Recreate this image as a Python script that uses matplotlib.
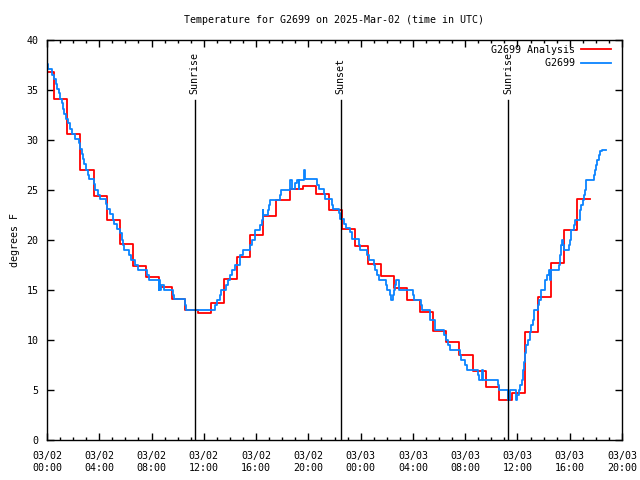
import matplotlib
matplotlib.use('Agg')
import matplotlib.pyplot as plt
import matplotlib.dates as mdates
from datetime import datetime, timedelta

START = datetime(2025, 3, 2)

# hourly analysis, each value held from hh-0.44 to hh+0.56
analysis_hours = list(range(42))
analysis_temp = [36.8, 34.1, 30.6, 27.0, 24.4, 22.0, 19.6, 17.4, 16.3, 15.3,
                 14.1, 13.0, 12.7, 13.7, 16.1, 18.3, 20.5, 22.4, 24.0, 25.1,
                 25.4, 24.6, 23.0, 21.1, 19.4, 17.6, 16.4, 15.2, 14.0, 12.8,
                 10.9, 9.8, 8.5, 6.9, 5.3, 4.0, 4.7, 10.8, 14.3, 17.7,
                 21.0, 24.1]
analysis_shift = 0.56

# station observations (hours after 03/02 00:00 UTC, deg F), drawn as steps
obs_hours = [0.00, 0.05, 0.35, 0.51, 0.66, 0.76, 0.92, 0.99, 1.12, 1.20,
             1.32, 1.48, 1.63, 1.78, 1.88, 2.11, 2.45, 2.50, 2.65, 2.73,
             2.80, 2.96, 3.11, 3.21, 3.62, 3.70, 3.87, 4.03, 4.51, 4.59,
             4.82, 5.05, 5.15, 5.35, 5.58, 5.74, 5.80, 5.86, 6.30, 6.42,
             6.73, 6.93, 7.65, 7.78, 8.54, 8.60, 8.66, 8.72, 8.92, 9.61,
             9.69, 10.58, 10.66, 12.88, 13.00, 13.26, 13.31, 13.67, 13.85, 14.02,
             14.15, 14.41, 14.74, 14.79, 14.97, 15.55, 15.68, 15.90, 16.32, 16.45,
             16.52, 16.56, 16.88, 16.98, 17.08, 17.85, 17.90, 18.56, 18.61, 18.74,
             19.00, 19.12, 19.25, 19.30, 19.69, 19.74, 20.65, 20.78, 21.17, 21.29,
             21.80, 21.88, 22.31, 22.44, 22.70, 22.90, 23.21, 23.33, 23.85, 23.97,
             24.48, 24.61, 24.99, 25.12, 25.24, 25.37, 25.96, 26.01, 26.27, 26.32,
             26.45, 26.52, 26.65, 26.72, 26.90, 28.00, 28.05, 28.61, 28.69, 29.28,
             29.33, 29.70, 30.40, 30.55, 30.70, 30.81, 31.63, 31.70, 32.01, 32.13,
             32.98, 33.03, 33.28, 33.36, 34.50, 34.58, 35.30, 35.45, 35.90, 35.96,
             36.08, 36.21, 36.34, 36.42, 36.52, 36.60, 36.67, 36.78, 36.98, 37.06,
             37.16, 37.24, 37.54, 37.62, 37.80, 38.13, 38.26, 38.38, 38.51, 38.58,
             39.15, 39.22, 39.33, 39.40, 39.48, 39.58, 39.91, 39.99, 40.09, 40.35,
             40.42, 40.80, 40.88, 40.98, 41.13, 41.20, 41.26, 41.82, 41.90, 41.98,
             42.08, 42.21, 42.33, 42.46, 42.79]
obs_temp = [37.6, 37.1, 36.5, 36.1, 35.6, 35.1, 34.7, 34.1, 33.7, 33.1,
            32.6, 32.1, 31.7, 31.1, 30.6, 30.1, 29.7, 29.1, 28.6, 28.1,
            27.6, 27.0, 26.5, 26.1, 25.6, 25.0, 24.5, 24.1, 23.6, 23.1,
            22.6, 22.0, 21.6, 21.1, 20.7, 20.0, 19.5, 19.0, 18.5, 18.0,
            17.5, 17.0, 16.5, 16.0, 15.0, 16.0, 15.0, 15.5, 15.0, 14.5,
            14.1, 13.5, 13.0, 13.5, 14.0, 14.5, 15.0, 15.5, 16.0, 16.5,
            17.0, 17.5, 18.0, 18.5, 19.0, 19.5, 20.0, 21.0, 21.5, 22.0,
            23.0, 22.5, 23.0, 23.5, 24.0, 24.5, 25.0, 25.5, 26.0, 25.1,
            25.7, 26.0, 25.1, 26.0, 27.0, 26.1, 25.5, 25.1, 24.6, 24.1,
            23.5, 23.1, 22.7, 22.1, 21.6, 21.2, 20.8, 20.1, 19.5, 19.0,
            18.5, 18.0, 17.5, 17.0, 16.5, 16.0, 15.5, 15.0, 14.5, 14.0,
            14.5, 15.0, 15.5, 16.0, 15.0, 14.5, 14.0, 13.5, 13.0, 12.5,
            12.0, 11.0, 10.5, 10.0, 9.5, 9.0, 8.5, 8.0, 7.5, 7.0,
            6.5, 6.0, 7.0, 6.0, 5.5, 5.0, 4.0, 5.0, 4.0, 4.5,
            5.0, 5.5, 6.0, 7.0, 7.8, 8.7, 9.5, 10.0, 10.8, 11.5,
            12.0, 13.0, 13.5, 14.0, 15.0, 16.0, 16.5, 17.0, 16.0, 17.0,
            17.5, 18.5, 19.5, 20.0, 19.5, 19.0, 19.5, 20.0, 21.0, 21.5,
            22.0, 23.0, 23.5, 24.0, 24.5, 25.0, 26.0, 26.5, 27.0, 27.5,
            28.0, 28.5, 28.9, 29.0, 29.0]

sun_events = [('Sunrise', 11.29), ('Sunset', 22.46), ('Sunrise', 35.30)]
sun_label_top = 34.0


def to_time(hours):
    return [START + timedelta(hours=h) for h in hours]


FONT = 'DejaVu Sans Mono'
FS = 7.2
plt.rcParams['font.family'] = FONT
plt.rcParams['font.size'] = FS

fig = plt.figure(figsize=(6.4, 4.8), dpi=100)
ax = fig.add_axes([47 / 640, 40 / 480, 575 / 640, 400 / 480])

# analysis steps
red_x = [0] + [h + analysis_shift for h in analysis_hours]
red_y = analysis_temp + [analysis_temp[-1]]
ax.step(to_time(red_x), red_y, where='post', color='#ff0000', lw=1.3,
        label='G2699 Analysis'.rjust(14))
ax.step(to_time(obs_hours), obs_temp, where='post', color='#0a84ff', lw=1.3,
        label='G2699'.rjust(14))

# sunrise / sunset markers
for name, h in sun_events:
    t = START + timedelta(hours=h)
    ax.plot([t, t], [0, sun_label_top], color='black', lw=1.0)
    ax.text(t, sun_label_top + 0.6, name, rotation=90, ha='center', va='bottom')

ax.set_xlim(START, START + timedelta(hours=44))
ax.set_ylim(0, 40)
ax.set_yticks(range(0, 41, 5))
ax.xaxis.set_major_locator(mdates.HourLocator(byhour=range(0, 24, 4)))
ax.xaxis.set_minor_locator(mdates.HourLocator(byhour=range(0, 24, 1)))
ax.xaxis.set_major_formatter(mdates.DateFormatter('%m/%d\n%H:%M'))
ax.tick_params(which='both', direction='in', top=True, right=True, width=1.0)
ax.tick_params(which='major', length=5, pad=8)
ax.tick_params(which='minor', length=2.5)
ax.tick_params(axis='y', pad=6)
for s in ax.spines.values():
    s.set_linewidth(1.0)

ax.set_ylabel('degrees F', labelpad=5)
ax.set_title('Temperature for G2699 on 2025-Mar-02 (time in UTC)', pad=12, fontsize=FS)

ax.legend(loc='upper right', bbox_to_anchor=(1 - 6 / 575, 1), frameon=False,
          markerfirst=False, handlelength=3.0, handletextpad=0.6,
          labelspacing=0.35, borderaxespad=0.3, borderpad=0.2)

fig.savefig('out.png', dpi=100)
